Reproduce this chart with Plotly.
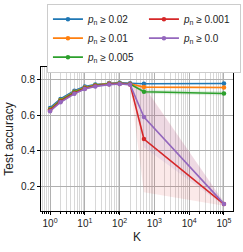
import plotly.graph_objects as go

K = [1, 2, 5, 10, 20, 50, 100, 200, 500, 100000]
thresholds = ["0.02", "0.01", "0.005", "0.001", "0.0"]
acc_002 = [0.640, 0.690, 0.737, 0.760, 0.772, 0.780, 0.782, 0.779, 0.776, 0.777]
acc_001 = [0.633, 0.684, 0.731, 0.755, 0.768, 0.777, 0.779, 0.776, 0.757, 0.755]
acc_0005 = [0.630, 0.681, 0.728, 0.752, 0.766, 0.775, 0.777, 0.774, 0.731, 0.721]
acc_0001 = [0.626, 0.676, 0.723, 0.749, 0.763, 0.773, 0.775, 0.772, 0.465, 0.099]
acc_00 = [0.621, 0.672, 0.719, 0.746, 0.761, 0.771, 0.774, 0.771, 0.589, 0.100]
std_002 = [0.008, 0.006, 0.005, 0.004, 0.004, 0.003, 0.003, 0.003, 0.003, 0.003]
std_001 = [0.008, 0.006, 0.005, 0.004, 0.004, 0.003, 0.003, 0.003, 0.006, 0.006]
std_0005 = [0.008, 0.006, 0.005, 0.004, 0.004, 0.003, 0.003, 0.003, 0.012, 0.012]
std_0001 = [0.008, 0.006, 0.005, 0.004, 0.004, 0.003, 0.003, 0.004, 0.300, 0.010]
std_00 = [0.008, 0.006, 0.005, 0.004, 0.004, 0.003, 0.003, 0.004, 0.170, 0.010]
tick_vals = [1, 10, 100, 1000, 10000, 100000]
tick_text = ["10<sup>0</sup>", "10<sup>1</sup>", "10<sup>2</sup>", "10<sup>3</sup>", "10<sup>4</sup>", "10<sup>5</sup>"]
y_ticks = [0.2, 0.4, 0.6, 0.8]

minor_vals = [m / 10 for m in range(6, 10)] + [m * 10 ** e for e in range(0, 5) for m in range(2, 10)]

series = [acc_002, acc_001, acc_0005, acc_0001, acc_00]
stds = [std_002, std_001, std_0005, std_0001, std_00]
colors = ["#1f77b4", "#ff7f0e", "#2ca02c", "#d62728", "#9467bd"]
fills = ["rgba(31,119,180,0.15)", "rgba(255,127,14,0.15)", "rgba(44,160,44,0.15)",
         "rgba(214,39,40,0.10)", "rgba(148,103,189,0.12)"]
ranks = [1, 3, 5, 2, 4]

fig = go.Figure()
for s, sd, fc in zip(series, stds, fills):
    up = [m + e for m, e in zip(s, sd)]
    lo = [m - e for m, e in zip(s, sd)]
    fig.add_trace(go.Scatter(x=K + K[::-1], y=up + lo[::-1], fill="toself",
                             fillcolor=fc, line=dict(width=0), mode="lines",
                             showlegend=False, hoverinfo="skip"))
for s, c, t, r in zip(series, colors, thresholds, ranks):
    fig.add_trace(go.Scatter(x=K, y=s, mode="lines+markers",
                             name="<i>p</i><sub>n</sub> ≥ " + t, legendrank=r,
                             line=dict(color=c, width=1.6),
                             marker=dict(color=c, size=4.5)))

fig.update_layout(
    width=243, height=252,
    margin=dict(l=41, r=10, t=67, b=41, autoexpand=False),
    paper_bgcolor="white", plot_bgcolor="white",
    font=dict(family="Liberation Sans, Arial, sans-serif", size=10, color="#222"),
    legend=dict(orientation="h", x=0.031, xanchor="left", y=1.44, yanchor="top",
                entrywidth=51, entrywidthmode="pixels",
                bordercolor="#cccccc", borderwidth=1,
                font=dict(size=10), itemwidth=30, tracegroupgap=0),
    showlegend=True,
)
fig.update_xaxes(type="log", range=[-0.26, 5.26], tickvals=tick_vals, ticktext=tick_text,
                 showline=True, linecolor="black", linewidth=1, mirror=True,
                 ticks="outside", ticklen=3, tickcolor="black",
                 showgrid=True, gridcolor="#b0b0b0", gridwidth=1,
                 minor=dict(tickvals=minor_vals, ticks="outside", ticklen=2, tickcolor="black",
                            showgrid=True, gridcolor="#d8d8d8"),
                 title=dict(text="K", standoff=4), zeroline=False)
fig.update_yaxes(range=[0.06, 0.87], tickvals=y_ticks,
                 showline=True, linecolor="black", linewidth=1, mirror=True,
                 ticks="outside", ticklen=3, tickcolor="black",
                 showgrid=True, gridcolor="#b0b0b0", gridwidth=1,
                 title=dict(text="Test accuracy", standoff=4), zeroline=False)

fig.write_html("out.html", config={"displayModeBar": False},
               post_script="document.body.style.margin='0px';")
